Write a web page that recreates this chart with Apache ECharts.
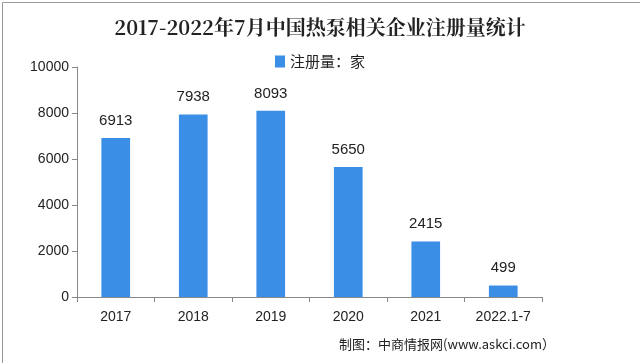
<!DOCTYPE html>
<html><head><meta charset="utf-8">
<script src="https://cdn.jsdelivr.net/npm/echarts@6/dist/echarts.min.js"></script>
<style>html,body{margin:0;padding:0;background:#fff}#c{width:640px;height:363px}</style>
</head><body><div id="c"></div>
<script>
const categories = ['2017','2018','2019','2020','2021','2022.1-7'];
const values = [6913, 7938, 8093, 5650, 2415, 499];
const yTicks = [0, 2000, 4000, 6000, 8000, 10000];
const titleText = '2017-2022年7月中国热泵相关企业注册量统计';
const seriesName = '注册量：家';
const sourceText = '制图：中商情报网(www.askci.com）';

const chart = echarts.init(document.getElementById('c'), null, {renderer:'canvas'});
chart.setOption({
  backgroundColor:'#fff',
  animation:false,
  title:{text:titleText,left:'center',top:12,
    textStyle:{fontFamily:'"Noto Serif CJK SC","Noto Sans CJK SC",serif',fontWeight:'bold',fontSize:20,color:'#222'}},
  legend:{data:[seriesName],top:49,left:'center',itemWidth:10,itemHeight:12,itemGap:4,
    icon:'rect',textStyle:{fontSize:15,color:'#222',fontFamily:'"Noto Sans CJK SC",sans-serif'}},
  grid:{left:77,right:98,top:67,bottom:66},
  xAxis:{type:'category',data:categories,
    axisLine:{lineStyle:{color:'#888'}},
    axisTick:{show:true,alignWithLabel:false,length:5,lineStyle:{color:'#888'}},
    axisLabel:{interval:0,fontSize:14,color:'#222',margin:13,fontFamily:'"Liberation Sans",sans-serif'}},
  yAxis:{type:'value',min:0,max:10000,interval:2000,
    axisLine:{show:true,lineStyle:{color:'#888'}},
    axisTick:{show:true,length:5,lineStyle:{color:'#888'}},
    splitLine:{show:false},
    axisLabel:{fontSize:14,color:'#222',margin:8,fontFamily:'"Liberation Sans",sans-serif',
      formatter:v=>yTicks.includes(v)?String(v):''}},
  series:[{name:seriesName,type:'bar',data:values,barWidth:'37%',
    itemStyle:{color:'#3a8ee6'},
    label:{show:true,position:'top',distance:10,fontSize:15,color:'#222',fontFamily:'"Liberation Sans",sans-serif'}}],
  graphic:[
    {type:'rect',left:0,top:0,shape:{width:639,height:362},style:{fill:'none',stroke:'#999',lineWidth:1},silent:true},
    {type:'text',right:85,top:338,style:{text:sourceText,fontSize:13,fill:'#222',fontFamily:'"Noto Sans CJK SC",sans-serif'}}
  ]
});
</script></body></html>
